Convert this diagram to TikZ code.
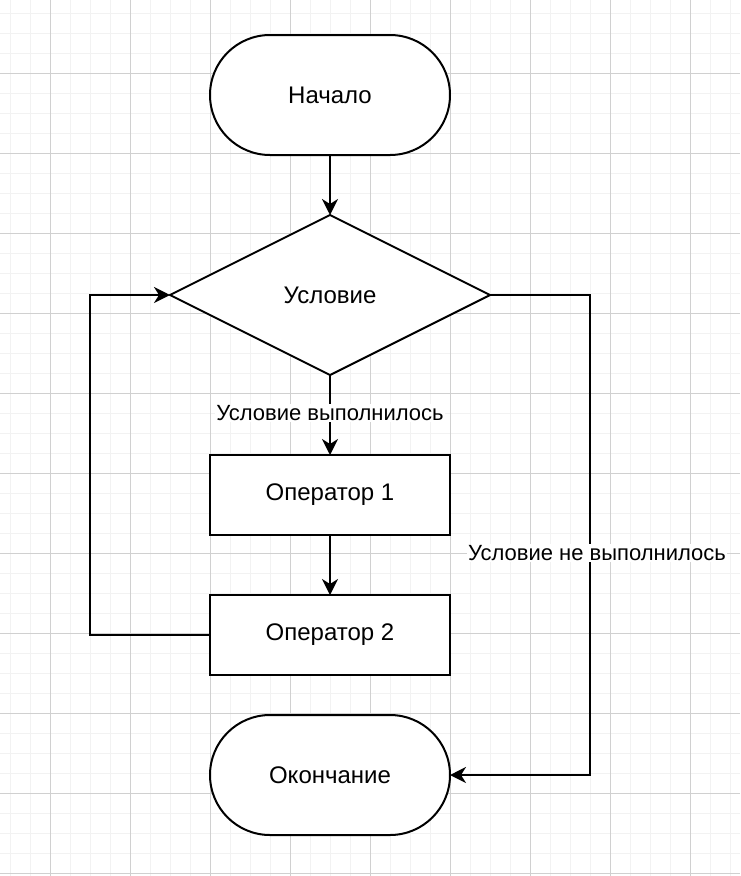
\documentclass[tikz,border=0pt]{standalone}
\usepackage{fontspec}
\setmainfont{Liberation Sans}
\usetikzlibrary{arrows.meta,shapes.geometric}
\definecolor{gridminor}{HTML}{F2F2F2}
\definecolor{gridmajor}{HTML}{D0D0D0}
\tikzset{
  base/.style={draw=black, line width=2pt, fill=white, font=\fontsize{24}{28}\selectfont, outer sep=0pt, inner sep=2pt},
  terminal/.style={base, rectangle, rounded corners=60pt, minimum width=240pt, minimum height=120pt},
  process/.style={base, rectangle, minimum width=240pt, minimum height=80pt},
  decision/.style={base, diamond, aspect=2, minimum width=320pt, minimum height=160pt},
  arr/.style={line width=2pt, -{Stealth[length=16pt,width=16pt,inset=5pt]}},
  lbl/.style={fill=white, font=\fontsize{22}{26}\selectfont, inner sep=1pt},
}
\begin{document}
\begin{tikzpicture}[x=1pt,y=-1pt]
\useasboundingbox (0,0) rectangle (740,876);
\fill[white] (0,0) rectangle (740,876);
% grid
\foreach \x in {10,30,...,730} \draw[gridminor, line width=1pt] (\x,0) -- (\x,876);
\foreach \y in {13,33,...,873} \draw[gridminor, line width=1pt] (0,\y) -- (740,\y);
\foreach \x in {50,130,...,690} \draw[gridmajor, line width=1pt] (\x,0) -- (\x,876);
\foreach \y in {73,153,...,873} \draw[gridmajor, line width=1pt] (0,\y) -- (740,\y);
% nodes
\node[terminal] (start) at (330,95) {Начало};
\node[decision] (cond) at (330,295) {Условие};
\node[process] (op1) at (330,495) {Оператор 1};
\node[process] (op2) at (330,635) {Оператор 2};
\node[terminal] (end) at (330,775) {Окончание};
\coordinate (lp) at (90,635);
\coordinate (rp) at (590,295);
\coordinate (rq) at (590,775);
% edges
\draw[arr] (start) -- (cond);
\draw[arr] (cond) -- node[lbl, yshift=2pt] {Условие выполнилось} (op1);
\draw[arr] (op1) -- (op2);
\draw[arr] (op2.west) -- (lp) |- (cond.west);
\draw[arr] (cond.east) -- (rp) -- node[lbl, pos=0.5375, xshift=7pt] {Условие не выполнилось} (rq) -- (end.east);
\end{tikzpicture}
\end{document}
